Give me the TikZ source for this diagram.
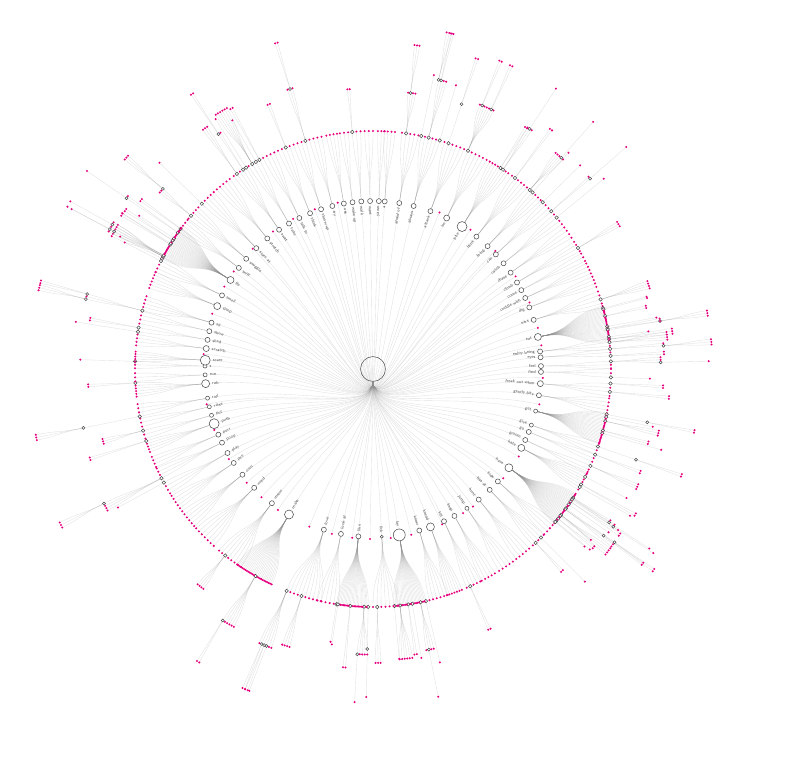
\documentclass[tikz,border=0pt]{standalone}

\definecolor{leafpink}{HTML}{E5007D}
\definecolor{knotgray}{HTML}{4A4A4A}

\tikzset{
  link/.style={draw=black!45, draw opacity=0.25, line width=0.22pt},
  knot/.style={circle, draw=knotgray, fill=white, line width=0.3pt, inner sep=0pt, minimum size={#1*0.567pt}},
  knot/.default=4,
  leaf/.style={circle, fill=leafpink, inner sep=0pt, minimum size=1.3pt},
  verb/.style={font=\sffamily\fontsize{2.5}{2.8}\selectfont, text=knotgray, inner sep=0.2pt},
}

\begin{document}
\begin{tikzpicture}[x=0.02cm, y=0.02cm]
  \useasboundingbox (-373,-403) rectangle (427,369);
  \pgfmathsetseed{2718}

  % root
  \node[knot=25] (root) at (0,0) {};

  % verbs without objects
  \foreach \ang [count=\i] in {67,55,44,33,23,14,8,-3,-12,-31,-40,-54,-58,-66,-77,-84,
      -91,-97,-104,-112,-124,-131,-138,-148,-159,-168,-185,-199,-209,-215,-225,-234,-242,-250,-258} {
    \node[leaf] (u\i) at (\ang:170) {};
    \draw[link] (root) .. controls (-90:45) and (\ang:85) .. (u\i);
  }

  % first ring: verbs, second ring: their objects, then two outer rings
  \foreach \ang/\lab/\dia/\wid/\den [count=\i] in {
      86/a/5/3.5/1, 81/afraid of/5/5/1, 76/always/5/5.5/1, 70/attack/5/6/1,
      64/be/6/6/1, 58/bite/10/6/1.4, 52/blink/5/5.5/1, 47/bring/5/4.5/1,
      43/can/5/4/1, 39/catch/5/4/1, 35/chase/5/4/1, 31/climb/5/3.5/1,
      28/come/5/3/1, 25/cuddle with/5/3.5/1, 21.5/dig/5/3.5/1, 17/ears/5/5/1,
      11/eat/7/9/3.5, 6/enjoy being/5/3.5/1, 4/eyes/5/2.5/1, 1/feel/5/2.5/1,
      -1/find/5/3/1, -5/freak out when/6/4/1, -9/gently bite/5/4.75/1, -14.5/get/4/8/3,
      -19.5/give/4/3.75/1, -22/go/5/2.75/1, -25/groom/5/3/1, -28/hate/7/5.5/1.4,
      -36/have/8/9/3.5, -42/hide/5/5/1, -46/hiss at/5/4.5/1, -51/hunt/5/5/1,
      -56/jump/4/5/1, -61/keep/5/4.5/1, -65/kill/5/4.5/1, -70/knead/8/4.5/1.5,
      -74/know/5/5.5/1, -81/lay/12/8/3, -87/lick/3/7/1, -95/like/5/8/3,
      -101/look at/5/6/1, -107/love/5/9.5/1, -120/make/9/10/2.5, -127/meow/5/7.5/1,
      -135/need/5/7/1, -141/own/5/5.5/1, -146/pee/5/4.5/1, -150/play/5/4/1,
      -154/poop/5/3.5/1, -157/purr/5/3.5/1, -161/push/10/3.5/1.5, -164/put/4/3/1,
      -167/raise/4/3/1, -170/roll/4/4/1, -175/rub/8/4/1.5, -178/run/4/3/1,
      -181/s/4/2.5/1, -183/scare/10/3/1.5, -187/scratch/6/3.5/1, -190/shed/5/3/1,
      -193/show/5/3/1, -196/sit/5/4.5/1, -202/sleep/7/5/1.2, -206/smell/5/5/1,
      -212/fly/7/9/3.5, -217/sniff/5/4.5/1, -221/snuggle/5/4.5/1, -226/stare at/5/5/1,
      -231/stretch/5/5/1, -236/swat/5/4.5/1, -240/take/5/4/1, -244/talk to/5/4/1,
      -248/think/5/4/1, -252/throw up/5/4/1, -256/try/5/4/1, -260/use/5/3.5/1,
      -263/wake up/5/3/1, -266/walk/5/3/1, -269/want/5/3/1, -272/yawn/5/2.5/1} {
    \node[knot=\dia] (v\i) at (\ang:168) {};
    \pgfmathtruncatemacro\side{cos(\ang)>0}
    \ifnum\side=1 \def\rot{\ang}\def\anc{east}\else\pgfmathsetmacro\rot{\ang+180}\def\anc{west}\fi
    \node[verb, rotate=\rot, anchor=\anc] (t\i) at (\ang:{166-\dia/2}) {\lab};
    \draw[link] (root) .. controls (-90:45) and (\ang:84) .. (v\i);
    \pgfmathtruncatemacro\nn{max(1,round(\wid*\den))}
    \foreach \m in {1,...,\nn} {
      \pgfmathsetmacro\cang{\ang+\wid/2-\wid*(\m-0.5)/\nn}
      \pgfmathsetmacro\rr{rnd}
      \ifdim\rr pt<0.2pt
        \node[knot=3.5] (v\i-\m) at (\cang:238) {};
        \pgfmathtruncatemacro\kk{1+floor(rnd*rnd*7)}
        \pgfmathsetmacro\rad{276+rnd*26}
        \foreach \j in {1,...,\kk} {
          \pgfmathsetmacro\dang{\cang+0.5*(\j-(\kk+1)/2)}
          \pgfmathsetmacro\qq{rnd}
          \ifdim\qq pt<0.18pt
            \node[knot=3] (v\i-\m-\j) at (\dang:\rad) {};
            \pgfmathtruncatemacro\nd{1+floor(rnd*3)}
            \foreach \h in {1,...,\nd} {
              \pgfmathsetmacro\eang{\dang+0.45*(\h-(\nd+1)/2)}
              \node[leaf] (v\i-\m-\j-\h) at (\eang:{\rad+48}) {};
              \draw[link] (v\i-\m-\j) .. controls (\dang:{\rad+24}) and (\eang:{\rad+24}) .. (v\i-\m-\j-\h);
            }
          \else
            \node[leaf] (v\i-\m-\j) at (\dang:\rad) {};
          \fi
          \draw[link] (v\i-\m) .. controls (\cang:{(238+\rad)/2}) and (\dang:{(238+\rad)/2}) .. (v\i-\m-\j);
        }
      \else
        \node[leaf] (v\i-\m) at (\cang:238) {};
      \fi
      \draw[link] (v\i) .. controls (\ang:203) and (\cang:203) .. (v\i-\m);
    }
  }

\end{tikzpicture}
\end{document}
